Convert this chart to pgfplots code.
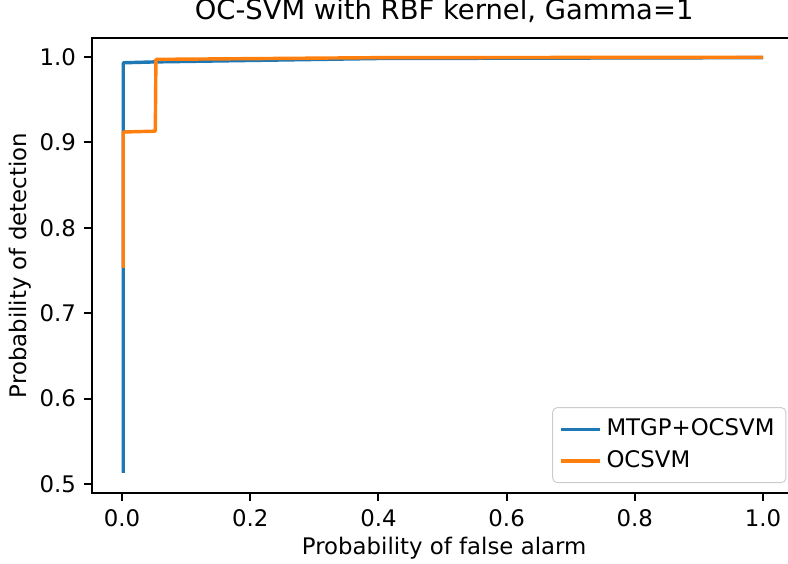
\documentclass[border=0pt]{standalone}
\usepackage{pgfplots}
\pgfplotsset{compat=1.18}
\usepackage{fontspec}
\setmainfont{DejaVu Sans}
\definecolor{mplblue}{HTML}{1F77B4}
\definecolor{mplorange}{HTML}{FF7F0E}
\begin{document}
\begin{tikzpicture}
\useasboundingbox (0,0) rectangle (345.1pt,246.6pt);
\begin{axis}[
  at={(40.3pt,30.66pt)}, anchor=south west,
  scale only axis, width=308.4pt, height=199.3pt,
  xmin=-0.0467, xmax=1.0517, ymin=0.4895, ymax=1.022,
  xtick={0,0.2,0.4,0.6,0.8,1.0},
  ytick={0.5,0.6,0.7,0.8,0.9,1.0},
  xticklabel style={/pgf/number format/.cd,fixed,fixed zerofill,precision=1},
  yticklabel style={/pgf/number format/.cd,fixed,fixed zerofill,precision=1},
  /pgf/number format/assume math mode=true,
  tick align=outside, tick pos=left,
  major tick length=3.5pt,
  tick style={black, line width=0.8pt},
  axis line style={line width=0.8pt},
  ticklabel style={font=\fontsize{10}{12}\selectfont},
  title={OC-SVM with RBF kernel, Gamma=1},
  title style={font=\fontsize{12}{14}\selectfont, yshift=-3pt},
  xlabel={Probability of false alarm},
  ylabel={Probability of detection},
  label style={font=\fontsize{10}{12}\selectfont},
  xlabel style={yshift=2pt},
  ylabel style={yshift=-3pt},
  legend style={at={(0.986,0.022)}, anchor=south east, draw=black!20, rounded corners=2pt, font=\fontsize{10}{12}\selectfont, row sep=1pt, inner sep=3pt},
  legend cell align=left,
  legend image post style={line width=1.5pt},
]
\addplot[mplblue, line width=1.5pt, line join=round] coordinates {
(0.002,0.513) (0.002,0.993) (0.050,0.994) (0.400,0.998) (1.000,0.999)};
\addlegendentry{MTGP+OCSVM}
\addplot[mplorange, line width=1.5pt, line join=round] coordinates {
(0.002,0.753) (0.002,0.912) (0.052,0.913) (0.053,0.997) (0.400,0.999) (1.000,0.9995)};
\addlegendentry{OCSVM}
\end{axis}
\end{tikzpicture}
\end{document}
